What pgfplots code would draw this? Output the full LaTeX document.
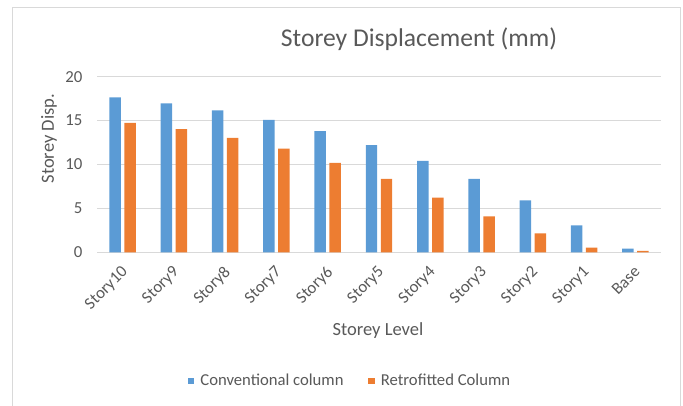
\documentclass[border=0pt]{standalone}
\usepackage{fontspec}
\setmainfont{Carlito}
\usepackage{pgfplots}
\pgfplotsset{compat=1.18}
\definecolor{cblue}{HTML}{5B9BD5}
\definecolor{corange}{HTML}{ED7D31}
\definecolor{cgrid}{HTML}{D9D9D9}
\definecolor{ctext}{HTML}{595959}
\begin{document}
\begin{tikzpicture}[x=0.75pt,y=-0.75pt]
\path[use as bounding box] (0,0) rectangle (683,405);
\draw[cgrid, line width=0.75pt] (12.7,7.3) rectangle (680,430);
\node[font=\fontsize{19.2}{23}\selectfont, text=ctext] at (419,39) {Storey Displacement (mm)};
\node[font=\fontsize{13.9}{16}\selectfont, text=ctext] at (378,331) {Storey Level};
\node[font=\fontsize{13.9}{16}\selectfont, text=ctext, rotate=90] at (49,138.7) {Storey Disp.};
\begin{axis}[
  at={(72.75pt,-189.2pt)}, anchor=south west,
  scale only axis, width=423pt, height=131.7pt,
  xmin=-0.5, xmax=10.5, ymin=0, ymax=20,
  ytick={0,5,10,15,20},
  xtick={0,1,2,3,4,5,6,7,8,9,10},
  xticklabels={Story10,Story9,Story8,Story7,Story6,Story5,Story4,Story3,Story2,Story1,Base},
  ybar=2.65pt, bar width=8.6pt,
  axis line style={draw=none},
  major tick length=0pt,
  ymajorgrids, grid style={cgrid, line width=0.75pt},
  /pgf/number format/assume math mode=true,
  tick label style={font=\fontsize{12.6}{14}\selectfont, text=ctext},
  yticklabel style={anchor=east, inner sep=0pt, xshift=-10.7pt},
  xticklabel style={xshift=-1.65pt, yshift=-9.4pt, rotate=45, anchor=north east, inner sep=0pt},
  legend style={at={(0.449,-0.733)}, anchor=center, draw=none, legend columns=2,
    font=\fontsize{12.5}{14}\selectfont, text=ctext,
    /tikz/every even column/.append style={column sep=16.5pt}},
  legend image code/.code={\fill[#1] (0pt,-2.6pt) rectangle (5pt,2.6pt); \path (7.5pt,0pt);},
]
\addplot[fill=cblue, draw=none] coordinates {(0,17.65) (1,16.97) (2,16.17) (3,15.07) (4,13.8) (5,12.19) (6,10.4) (7,8.35) (8,5.92) (9,3.07) (10,0.42)};
\addplot[fill=corange, draw=none] coordinates {(0,14.73) (1,14.04) (2,13.02) (3,11.8) (4,10.17) (5,8.35) (6,6.23) (7,4.1) (8,2.16) (9,0.53) (10,0.15)};
\legend{Conventional column, Retrofitted Column}
\end{axis}
\end{tikzpicture}
\end{document}
